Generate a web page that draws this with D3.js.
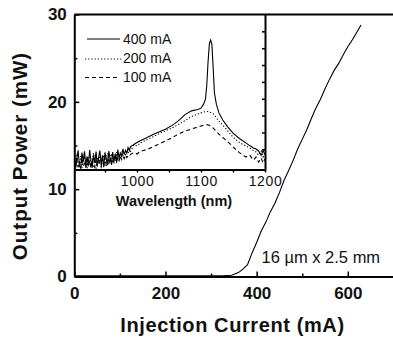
<!DOCTYPE html>
<html>
<head>
<meta charset="utf-8">
<script src="https://cdn.jsdelivr.net/npm/d3@7/dist/d3.min.js"></script>
<style>
  html, body { margin: 0; padding: 0; background: #fff; }
  svg { display: block; font-family: "Liberation Sans", Arial, Helvetica, sans-serif; }
</style>
</head>
<body>
<svg id="chart" width="393" height="341"></svg>
<script>
// Light-current characteristic of the laser (injection current in mA, output power in mW)
const currentMA = [0, 50, 100, 150, 200, 250, 300, 330, 345, 360, 370, 380, 390, 400, 410, 420, 430,
  440, 450, 460, 470, 480, 490, 500, 510, 520, 530, 540, 550, 560, 570, 580, 590, 600, 610, 620, 629];
const powerMW = [0.08, 0.08, 0.08, 0.08, 0.08, 0.08, 0.08, 0.1, 0.15, 0.45, 0.85, 1.35, 2.7, 3.9, 5.2,
  6.2, 7.4, 8.4, 9.6, 11.0, 12.1, 13.3, 14.6, 15.7, 16.8, 18.1, 19.3, 20.3, 21.5, 22.6, 23.6, 24.4,
  25.4, 26.3, 27.1, 28.0, 28.8];

// Emission spectra (wavelength in nm, level in dB) at three drive currents
const wavelengthNM = [902, 904, 906, 908, 910, 912, 914, 916, 918, 920, 922, 924, 926, 928, 930, 932,
  934, 936, 938, 940, 942, 944, 946, 948, 950, 952, 954, 956, 958, 960, 962, 964, 966, 968, 970, 972,
  974, 976, 978, 980, 982, 984, 986, 988, 990,
  995, 1000, 1005, 1015, 1025, 1035, 1045, 1055, 1065, 1075, 1085, 1095, 1100, 1104, 1107, 1109, 1111, 1113,
  1115, 1117, 1119, 1121, 1124, 1128, 1134, 1142, 1150, 1160, 1170, 1176, 1182, 1186, 1190, 1194, 1197, 1200];
const spec400 = [-71.2, -75.4, -72.8, -70.3, -74.9, -75.6, -71.0, -73.7, -70.6, -75.2, -72.1, -74.8,
  -70.2, -73.3, -75.5, -71.5, -74.1, -70.7, -75.0, -72.4, -70.4, -74.6, -71.8, -75.3, -70.9, -73.0,
  -74.7, -70.5, -72.9, -74.3, -70.8, -73.6, -71.3, -73.9, -70.1, -72.7, -70.9, -72.2, -69.9, -71.6,
  -70.3, -71.2, -69.5, -70.4, -69.2,
  -68.6, -68.0, -67.5, -66.6, -65.6, -64.8, -64.0, -62.9, -61.5, -59.7, -58.6, -58.2, -57.8, -56.6, -55.1, -51.0, -44.1, -38.8,
  -37.6, -38.8, -45.9, -53.3, -56.6, -59.2, -61.3, -63.4, -65.2, -66.8, -68.1, -68.9, -69.6, -69.9, -70.5, -71.8, -70.4, -71.6];
const spec200 = [-72.6, -75.6, -71.4, -74.5, -75.3, -72.0, -75.5, -73.1, -71.2, -74.9, -75.4, -72.7,
  -71.6, -75.1, -73.8, -71.1, -74.7, -75.6, -72.3, -74.0, -71.5, -75.2, -73.4, -71.7, -74.8, -72.5,
  -71.2, -74.4, -72.8, -71.3, -73.9, -71.9, -73.5, -70.8, -73.2, -71.4, -72.6, -70.7, -72.3, -70.9,
  -71.6, -70.2, -71.2, -69.9, -70.6,
  -68.7, -69.0, -68.1, -67.2, -66.3, -65.3, -64.4, -63.7, -62.6, -61.5, -60.3, -59.5, -59.2, -59.0, -58.8, -58.8, -58.8, -58.9,
  -59.1, -59.2, -59.5, -59.8, -60.7, -61.6, -62.8, -64.6, -66.4, -68.0, -69.0, -69.6, -70.4, -70.8, -71.7, -70.5, -72.3, -71.1];
const spec100 = [-74.1, -75.7, -72.9, -75.4, -73.6, -75.6, -72.5, -75.0, -74.2, -75.5, -72.7, -75.3,
  -73.4, -75.6, -72.8, -74.9, -75.4, -73.0, -75.1, -72.6, -74.5, -75.3, -72.9, -74.7, -72.4, -74.9,
  -73.1, -74.2, -72.3, -74.6, -72.8, -73.9, -72.2, -73.7, -72.5, -73.4, -71.9, -73.1, -72.2, -72.8,
  -71.7, -72.5, -71.9, -72.1, -71.5,
  -71.0, -71.4, -70.6, -70.1, -69.3, -68.4, -67.5, -66.5, -65.5, -64.6, -64.0, -63.4, -63.1, -62.9, -62.8, -62.7, -62.8, -62.9,
  -63.1, -63.4, -63.7, -64.1, -64.7, -65.5, -66.5, -67.8, -69.3, -71.0, -72.3, -71.7, -73.2, -72.3, -73.8, -72.6, -74.1, -72.9];
const seriesLabels = ["400 mA", "200 mA", "100 mA"];

// Axis ticks
const xMajorTicks = [0, 200, 400, 600];
const xMinorTicks = [100, 300, 500];
const yMajorTicks = [0, 10, 20, 30];
const yMinorTicks = [5, 15, 25];
const wlTicks = [950, 1000, 1050, 1100, 1150, 1200];
const wlLabelTicks = [1000, 1100, 1200];
const levelTicks = [-70, -65, -60, -55, -50, -45, -40, -35];

const svg = d3.select("#chart");

// Main plot scales
const x = d3.scaleLinear().domain([0, 700]).range([74.3, 393.4]);
const y = d3.scaleLinear().domain([0, 30]).range([276.5, 14.5]);

// Inset scales
const inset = { left: 74.3, right: 265, top: 14.5, bottom: 169.5 };
const xi = d3.scaleLinear().domain([902, 1200]).range([inset.left, inset.right]);
const yi = d3.scaleLinear().domain([-76, -30]).range([inset.bottom, inset.top]);

// L-I curve
svg.append("path")
  .datum(currentMA.map((c, i) => [c, powerMW[i]]))
  .attr("fill", "none").attr("stroke", "#000").attr("stroke-width", 1.1)
  .attr("d", d3.line().x(d => x(d[0])).y(d => y(d[1])));

svg.append("text")
  .attr("x", 261.5).attr("y", 263.3)
  .attr("font-size", 16.5).attr("fill", "#111")
  .text("16 \u00b5m x 2.5 mm");

// Inset panel
const g = svg.append("g");
g.append("rect")
  .attr("x", inset.left).attr("y", inset.top)
  .attr("width", inset.right - inset.left).attr("height", inset.bottom - inset.top)
  .attr("fill", "#fff");

svg.append("clipPath").attr("id", "insetClip")
  .append("rect")
  .attr("x", inset.left).attr("y", inset.top)
  .attr("width", inset.right - inset.left).attr("height", inset.bottom - inset.top);

const specLine = d3.line().x(d => xi(d[0])).y(d => yi(d[1]));
const spectra = [
  { values: spec100, dash: "4,3" },
  { values: spec200, dash: "1.2,2" },
  { values: spec400, dash: null }
];
spectra.forEach(s => {
  g.append("path")
    .datum(wavelengthNM.map((w, i) => [w, s.values[i]]))
    .attr("clip-path", "url(#insetClip)")
    .attr("fill", "none").attr("stroke", "#000").attr("stroke-width", 1.1)
    .attr("stroke-dasharray", s.dash)
    .attr("d", specLine);
});

// Inset legend
const legendStyles = [null, "1.2,2", "4,3"];
const legendY = [39, 59, 77.5];
const legendTextY = [43.5, 63, 81.5];
const legendX1 = [87, 85, 85], legendX2 = [120, 122, 117];
seriesLabels.forEach((lab, i) => {
  g.append("line")
    .attr("x1", legendX1[i]).attr("x2", legendX2[i])
    .attr("y1", legendY[i]).attr("y2", legendY[i])
    .attr("stroke", "#000").attr("stroke-width", 1.1)
    .attr("stroke-dasharray", legendStyles[i]);
  g.append("text")
    .attr("x", 123).attr("y", legendTextY[i])
    .attr("font-size", 14).attr("fill", "#111")
    .text(lab);
});

// Inset axes
const wlAxis = g.append("g")
  .attr("transform", `translate(0,${inset.bottom})`)
  .call(d3.axisBottom(xi).tickValues(wlTicks).tickSize(3).tickSizeOuter(0).tickPadding(4)
    .tickFormat(d => wlLabelTicks.includes(d) ? d : ""));
wlAxis.select(".domain").attr("stroke-width", 2);
wlAxis.selectAll(".tick line").attr("stroke-width", 1.5);
wlAxis.selectAll(".tick text")
  .attr("font-size", 14).attr("font-family", "Liberation Sans, Arial, sans-serif")
  .attr("letter-spacing", 0.6).attr("fill", "#111");

const levelAxis = g.append("g")
  .attr("transform", `translate(${inset.right},0)`)
  .call(d3.axisRight(yi).tickValues(levelTicks).tickSize(-3).tickSizeOuter(0).tickFormat(""));
levelAxis.select(".domain").attr("stroke-width", 2);
levelAxis.selectAll(".tick line").attr("stroke-width", 1.5);

g.append("text")
  .attr("x", 174).attr("y", 206)
  .attr("text-anchor", "middle").attr("font-size", 14.5).attr("font-weight", "bold")
  .attr("fill", "#111")
  .text("Wavelength (nm)");

// Main axes (drawn last so the left ticks sit over the inset)
const xAxis = svg.append("g")
  .attr("transform", `translate(0,${y(0)})`)
  .call(d3.axisBottom(x).tickValues(xMajorTicks).tickSize(-5).tickSizeOuter(0).tickPadding(10.5));
xAxis.select(".domain").attr("stroke-width", 2);
xAxis.selectAll(".tick line").attr("stroke-width", 1.5);
xAxis.selectAll(".tick text")
  .attr("font-size", 17).attr("font-weight", "bold")
  .attr("font-family", "Liberation Sans, Arial, sans-serif").attr("fill", "#111");

svg.append("g")
  .attr("transform", `translate(0,${y(0)})`)
  .call(d3.axisBottom(x).tickValues(xMinorTicks).tickSize(-3).tickFormat(""))
  .call(a => a.select(".domain").remove())
  .selectAll(".tick line").attr("stroke-width", 1.5);

const yAxis = svg.append("g")
  .attr("transform", `translate(${x(0)},0)`)
  .call(d3.axisLeft(y).tickValues(yMajorTicks).tickSize(-5).tickSizeOuter(0).tickPadding(7.5));
yAxis.select(".domain").attr("stroke-width", 2);
yAxis.selectAll(".tick line").attr("stroke-width", 1.5);
yAxis.selectAll(".tick text")
  .attr("font-size", 17).attr("font-weight", "bold")
  .attr("font-family", "Liberation Sans, Arial, sans-serif").attr("fill", "#111");

svg.append("g")
  .attr("transform", `translate(${x(0)},0)`)
  .call(d3.axisLeft(y).tickValues(yMinorTicks).tickSize(-3).tickFormat(""))
  .call(a => a.select(".domain").remove())
  .selectAll(".tick line").attr("stroke-width", 1.5);

// Top frame edge
svg.append("line")
  .attr("x1", x(0)).attr("x2", x(700)).attr("y1", y(30)).attr("y2", y(30))
  .attr("stroke", "#000").attr("stroke-width", 2);

// Axis titles
svg.append("text")
  .attr("x", 232.5).attr("y", 331.5)
  .attr("text-anchor", "middle").attr("font-size", 20).attr("font-weight", "bold")
  .attr("letter-spacing", 0.6).attr("fill", "#111")
  .text("Injection Current (mA)");

svg.append("text")
  .attr("transform", "translate(27,156) rotate(-90)")
  .attr("text-anchor", "middle").attr("font-size", 20.5).attr("font-weight", "bold")
  .attr("letter-spacing", 1).attr("fill", "#111")
  .text("Output Power (mW)");
</script>
</body>
</html>
